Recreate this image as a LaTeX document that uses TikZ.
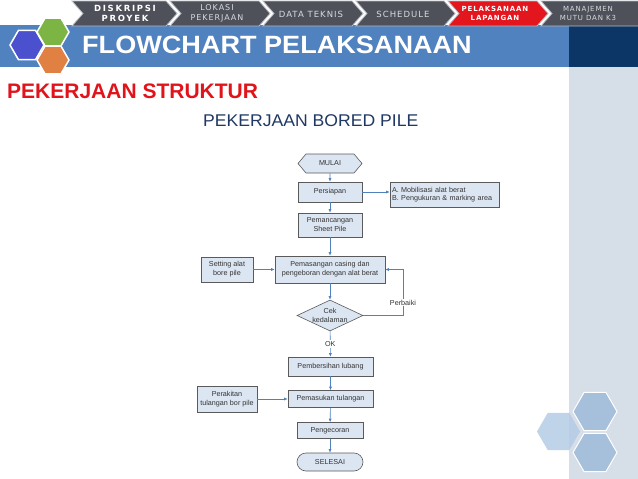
\documentclass[tikz,border=0pt]{standalone}
\usepackage{fontspec}
\usepackage{graphicx}
\setmainfont{Liberation Sans}
\newfontfamily\tabfont[LetterSpace=12]{DejaVu Sans}
\newfontfamily\tabfontw[LetterSpace=20]{DejaVu Sans}
\usetikzlibrary{shapes.geometric,shapes.symbols,arrows.meta}
\definecolor{band}{HTML}{5082C0}
\definecolor{navy}{HTML}{0C3665}
\definecolor{panel}{HTML}{D6DEE7}
\definecolor{tabgray}{HTML}{4E5159}
\definecolor{tabred}{HTML}{E3161E}
\definecolor{tabedge}{HTML}{B8BCC4}
\definecolor{tabtxt}{HTML}{D8DADF}
\definecolor{titlered}{HTML}{E0141B}
\definecolor{subnavy}{HTML}{1F3864}
\definecolor{boxfill}{HTML}{DCE6F2}
\definecolor{boxline}{HTML}{5A5A5A}
\definecolor{fctext}{HTML}{333333}
\definecolor{arrowc}{HTML}{4F81BD}
\definecolor{hexblue}{HTML}{4B50CF}
\definecolor{hexgreen}{HTML}{7DB544}
\definecolor{hexorange}{HTML}{E08042}
\definecolor{hexpale}{HTML}{A6C0DB}
\definecolor{hexlight}{HTML}{B4CCE6}
\tikzset{
  fbox/.style={draw=boxline, fill=boxfill, line width=0.6pt, text=fctext, align=center, inner sep=1pt,
    font=\fontsize{7.2}{9}\selectfont},
  arr/.style={draw=arrowc, line width=0.6pt, -{Latex[length=3.5pt,width=3pt]}},
  lbl/.style={fill=white, inner sep=1pt, text=fctext, font=\fontsize{7.2}{9}\selectfont},
  tabtwo/.style={align=center, text=tabtxt, font=\tabfont\fontsize{8}{10}\selectfont},
  tabone/.style={text=tabtxt, font=\tabfont\fontsize{8.5}{10}\selectfont},
}
\begin{document}
\begin{tikzpicture}[x=1pt,y=-1pt]
\useasboundingbox (0,0) rectangle (638,479);
\fill[white] (0,0) rectangle (638,479);
% bands and panel
\fill[band] (0,25) rectangle (569,67);
\fill[navy] (569,25) rectangle (638,67);
\fill[panel] (569,67) rectangle (638,479);
% tabs
\foreach \L/\T/\c in {72/177/tabgray,170/270/tabgray,263/363/tabgray,356/455/tabgray,448/548/tabred,541/652/tabgray}{
  \filldraw[fill=\c, draw=tabedge, line width=0.8pt] (\L,1) -- (\T-11,1) -- (\T,13.5) -- (\T-11,26) -- (\L,26) -- (\L+11,13.5) -- cycle;
}
\node[tabtwo, text=white, font=\tabfontw\bfseries\fontsize{8.5}{10}\selectfont] (t1) at (125,13.5) {DISKRIPSI\\PROYEK};
\node[tabtwo] (t2) at (217,13.5) {LOKASI\\PEKERJAAN};
\node[tabone] (t3) at (311,14) {DATA TEKNIS};
\node[tabone] (t4) at (403,14) {SCHEDULE};
\node[tabtwo, text=white, font=\tabfont\bfseries\fontsize{7}{9.5}\selectfont] (t5) at (495,13.5) {PELAKSANAAN\\LAPANGAN};
\node[tabtwo, font=\tabfont\fontsize{7}{9.5}\selectfont] (t6) at (588,13.5) {MANAJEMEN\\MUTU DAN K3};
% left hexagons
\fill[hexblue, draw=white, line width=1.5pt] (27,45) ++(0:17) -- ++(120:17) -- ++(180:17) -- ++(240:17) -- ++(300:17) -- ++(0:17) -- cycle;
\fill[hexgreen, draw=white, line width=1.5pt] (53,32) ++(0:16) -- ++(120:16) -- ++(180:16) -- ++(240:16) -- ++(300:16) -- ++(0:16) -- cycle;
\fill[hexorange, draw=white, line width=1.5pt] (53,60) ++(0:16) -- ++(120:16) -- ++(180:16) -- ++(240:16) -- ++(300:16) -- ++(0:16) -- cycle;
% right hexagons
\fill[hexlight, opacity=0.85] (558.5,431.5) ++(0:21.5) -- ++(120:21.5) -- ++(180:21.5) -- ++(240:21.5) -- ++(300:21.5) -- ++(0:21.5) -- cycle;
\fill[hexpale, draw=white, line width=1pt] (595,411.5) ++(0:22) -- ++(120:22) -- ++(180:22) -- ++(240:22) -- ++(300:22) -- ++(0:22) -- cycle;
\fill[hexpale, draw=white, line width=1pt] (595,452.5) ++(0:22) -- ++(120:22) -- ++(180:22) -- ++(240:22) -- ++(300:22) -- ++(0:22) -- cycle;
% titles
\node[anchor=base west, inner sep=0, text=white, font=\bfseries\fontsize{25}{25}\selectfont] (title) at (82,53) {\scalebox{1.083}[1]{FLOWCHART PELAKSANAAN}};
\node[anchor=base west, inner sep=0, text=titlered, font=\bfseries\fontsize{21}{21}\selectfont] (sect) at (7,98) {PEKERJAAN STRUKTUR};
\node[anchor=base west, inner sep=0, text=subnavy, font=\fontsize{17}{17}\selectfont] (sub) at (203,126) {\scalebox{1.035}[1]{PEKERJAAN BORED PILE}};
% flowchart
\node[fbox, shape=signal, signal to=east and west, signal pointer angle=100, minimum width=64, minimum height=19] (mulai) at (330,163.5) {MULAI};
\node[fbox, minimum width=64, minimum height=20] (persiapan) at (330,192) {Persiapan};
\node[fbox, align=left, text width=105, inner sep=2pt, minimum height=25, font=\fontsize{7.2}{8.5}\selectfont] (prep) at (444.5,194.5) {A. Mobilisasi alat berat\\B. Pengukuran \& marking area};
\node[fbox, minimum width=64, minimum height=24] (pancang) at (330,225) {Pemancangan\\Sheet Pile};
\node[fbox, minimum width=110, minimum height=27] (casing) at (330,269.5) {Pemasangan casing dan\\pengeboran dengan alat berat};
\node[fbox, minimum width=52, minimum height=25] (setting) at (227,269.5) {Setting alat\\bore pile};
\node[fbox, shape=diamond, minimum width=66, minimum height=31, inner sep=0pt,
  label={[text=fctext, align=center, font=\fontsize{7.2}{9}\selectfont]center:Cek\\kedalaman}] (cek) at (330,315.5) {};
\node[fbox, minimum width=85, minimum height=19] (bersih) at (330.5,366.5) {Pembersihan lubang};
\node[fbox, minimum width=85, minimum height=17] (masuk) at (330.5,399) {Pemasukan tulangan};
\node[fbox, minimum width=60, minimum height=26] (rakit) at (227,399) {Perakitan\\tulangan bor pile};
\node[fbox, minimum width=66, minimum height=16] (cor) at (330,430.5) {Pengecoran};
\node[fbox, minimum width=66, minimum height=18, rounded corners=9pt] (selesai) at (330,462) {SELESAI};
\coordinate (pb) at (403,315.5);
% connectors
\draw[arr] (mulai) -- (persiapan);
\draw[arr] (persiapan.east) -- (persiapan.east -| prep.west);
\draw[arr] (persiapan) -- (pancang);
\draw[arr] (pancang) -- (casing);
\draw[arr] (setting) -- (casing);
\draw[arr] (casing) -- (cek);
\draw[arr] (cek) -- node[lbl] (ok) {OK} (bersih);
\draw[arr] (cek.east) -- (pb) |- node[lbl, pos=0.14] (perbaiki) {Perbaiki} (casing.east);
\draw[arr] (bersih) -- (masuk);
\draw[arr] (rakit) -- (masuk);
\draw[arr] (masuk) -- (cor);
\draw[arr] (cor) -- (selesai);
\end{tikzpicture}
\end{document}
